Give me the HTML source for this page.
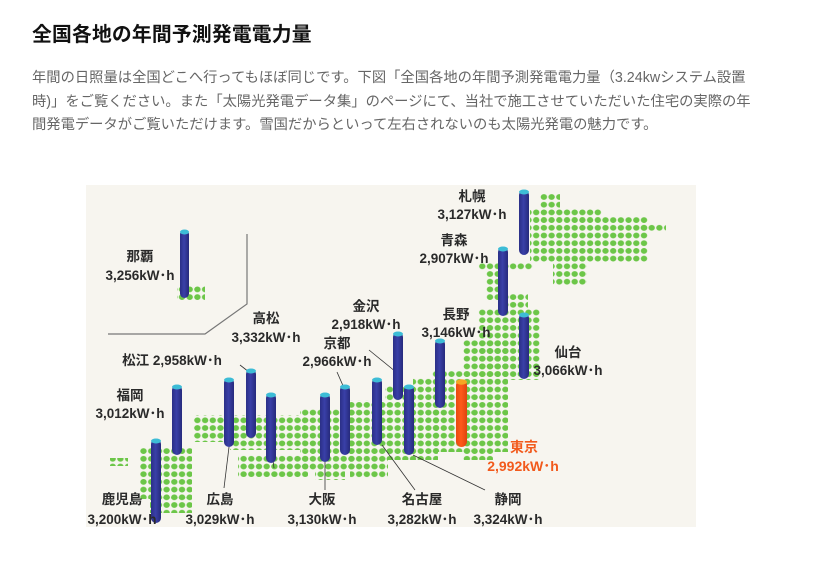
<!DOCTYPE html>
<html><head><meta charset="utf-8"><style>
body{margin:0;background:#fff;width:834px;height:566px;overflow:hidden;font-family:"Liberation Sans","Noto Sans CJK JP",sans-serif}
h1{position:absolute;left:32px;top:18px;margin:0;font-size:19.8px;font-weight:bold;color:#111;letter-spacing:0.2px}
p{position:absolute;left:32px;top:67px;margin:0;font-size:14.3px;line-height:23.5px;color:#666;white-space:nowrap}
svg{position:absolute;left:0;top:0}
</style></head><body>
<h1>全国各地の年間予測発電電力量</h1>
<p>年間の日照量は全国どこへ行ってもほぼ同じです。下図「全国各地の年間予測発電電力量（3.24kwシステム設置<br>時)」をご覧ください。また「太陽光発電データ集」のページにて、当社で施工させていただいた住宅の実際の年<br>間発電データがご覧いただけます。雪国だからといって左右されないのも太陽光発電の魅力です。</p>
<svg width="834" height="566" font-family="Liberation Sans, Noto Sans CJK JP, sans-serif">
<defs>
<pattern id="d" patternUnits="userSpaceOnUse" x="1.05" y="0.65" width="7.7" height="7.7">
<ellipse cx="3.85" cy="3.85" rx="3.2" ry="2.9" fill="#6cc648"/></pattern>
<linearGradient id="b" x1="0" x2="1"><stop offset="0" stop-color="#2a2f86"/><stop offset="0.45" stop-color="#3a40a8"/><stop offset="1" stop-color="#262a7c"/></linearGradient>
<linearGradient id="o" x1="0" x2="1"><stop offset="0" stop-color="#e84a10"/><stop offset="0.45" stop-color="#ff5a1a"/><stop offset="1" stop-color="#de4410"/></linearGradient>
</defs>
<rect x="86" y="185" width="610" height="342" fill="#f7f5ef"/>
<g fill="url(#d)">
<!-- Hokkaido -->
<rect x="540" y="193" width="20" height="16"/>
<rect x="530" y="208" width="72" height="10"/>
<rect x="530" y="216" width="118" height="46"/>
<rect x="640" y="224" width="26" height="8"/>
<rect x="553" y="260" width="34" height="26"/>
<!-- Tohoku -->
<rect x="478" y="262" width="55" height="8"/>
<rect x="486" y="270" width="22" height="30"/>
<rect x="508" y="293" width="20" height="16"/>
<rect x="478" y="308" width="62" height="72"/>
<!-- Kanto/Chubu -->
<rect x="463" y="340" width="45" height="112"/>
<rect x="432" y="370" width="40" height="82"/>
<rect x="413" y="378" width="25" height="82"/>
<rect x="385" y="385" width="30" height="75"/>
<rect x="463" y="452" width="30" height="8"/>
<!-- Kinki -->
<rect x="350" y="400" width="38" height="78"/>
<rect x="300" y="408" width="55" height="62"/>
<rect x="315" y="470" width="30" height="10"/>
<!-- Chugoku -->
<rect x="193" y="415" width="112" height="27"/>
<rect x="230" y="442" width="72" height="8"/>
<!-- Shikoku -->
<rect x="238" y="455" width="70" height="22"/>
<!-- Kyushu -->
<rect x="140" y="447" width="52" height="52"/>
<rect x="150" y="497" width="42" height="16"/>
<rect x="110" y="458" width="18" height="8"/>
<!-- Okinawa -->
<rect x="177" y="286" width="28" height="15"/>
</g>
<g stroke="#777" stroke-width="1.2" fill="none">
<polyline points="247,234 247,304 205,334 108,334"/>
</g>
<g stroke="#333" stroke-width="0.8" fill="none">
<line x1="240" y1="365" x2="249" y2="372"/>
<line x1="337" y1="372" x2="344" y2="388"/>
<line x1="369" y1="350" x2="396" y2="372"/>
<line x1="229" y1="447" x2="224" y2="488"/>
<line x1="325" y1="462" x2="325" y2="490"/>
<line x1="382" y1="445" x2="415" y2="490"/>
<line x1="413" y1="455" x2="485" y2="490"/>
<line x1="271" y1="445" x2="274" y2="468"/>
</g>
<g>
<g fill="url(#b)">
<rect x="180" y="230" width="9" height="68" rx="4.5"/>
<rect x="172" y="385" width="10" height="70" rx="5"/>
<rect x="151" y="439" width="10" height="84" rx="5"/>
<rect x="224" y="378" width="10" height="69" rx="5"/>
<rect x="246" y="369" width="10" height="69" rx="5"/>
<rect x="266" y="393" width="10" height="70" rx="5"/>
<rect x="320" y="393" width="10" height="69" rx="5"/>
<rect x="340" y="385" width="10" height="70" rx="5"/>
<rect x="372" y="378" width="10" height="67" rx="5"/>
<rect x="393" y="332" width="10" height="68" rx="5"/>
<rect x="404" y="385" width="10" height="70" rx="5"/>
<rect x="435" y="339" width="10" height="69" rx="5"/>
<rect x="498" y="247" width="10" height="69" rx="5"/>
<rect x="519" y="190" width="10" height="65" rx="5"/>
<rect x="519" y="313" width="10" height="66" rx="5"/>
</g>
<rect x="456" y="380" width="11" height="67" rx="5.5" fill="url(#o)"/>
<g fill="#3dbcd6">
<ellipse cx="184.5" cy="232" rx="4.5" ry="2.5"/>
<ellipse cx="177" cy="387" rx="5" ry="2.5"/>
<ellipse cx="156" cy="441" rx="5" ry="2.5"/>
<ellipse cx="229" cy="380" rx="5" ry="2.5"/>
<ellipse cx="251" cy="371" rx="5" ry="2.5"/>
<ellipse cx="271" cy="395" rx="5" ry="2.5"/>
<ellipse cx="325" cy="395" rx="5" ry="2.5"/>
<ellipse cx="345" cy="387" rx="5" ry="2.5"/>
<ellipse cx="377" cy="380" rx="5" ry="2.5"/>
<ellipse cx="398" cy="334" rx="5" ry="2.5"/>
<ellipse cx="409" cy="387" rx="5" ry="2.5"/>
<ellipse cx="440" cy="341" rx="5" ry="2.5"/>
<ellipse cx="503" cy="249" rx="5" ry="2.5"/>
<ellipse cx="524" cy="192" rx="5" ry="2.5"/>
<ellipse cx="524" cy="315" rx="5" ry="2.5"/>
</g>
<ellipse cx="461.5" cy="382" rx="5.5" ry="2.7" fill="#f5a623"/>
</g>
<g font-size="13.5" font-weight="bold" fill="#2a2a2a" text-anchor="middle">
<text x="140" y="261">那覇</text><text x="140" y="280">3,256kW･h</text>
<text x="266" y="323">高松</text><text x="266" y="342">3,332kW･h</text>
<text x="172" y="365">松江 2,958kW･h</text>
<text x="130" y="400">福岡</text><text x="130" y="418">3,012kW･h</text>
<text x="122" y="504">鹿児島</text><text x="122" y="524">3,200kW･h</text>
<text x="220" y="504">広島</text><text x="220" y="524">3,029kW･h</text>
<text x="322" y="504">大阪</text><text x="322" y="524">3,130kW･h</text>
<text x="422" y="504">名古屋</text><text x="422" y="524">3,282kW･h</text>
<text x="508" y="504">静岡</text><text x="508" y="524">3,324kW･h</text>
<text x="337" y="348">京都</text><text x="337" y="366">2,966kW･h</text>
<text x="366" y="311">金沢</text><text x="366" y="329">2,918kW･h</text>
<text x="456" y="319">長野</text><text x="456" y="337">3,146kW･h</text>
<text x="454" y="245">青森</text><text x="454" y="263">2,907kW･h</text>
<text x="472" y="201">札幌</text><text x="472" y="219">3,127kW･h</text>
<text x="568" y="357">仙台</text><text x="568" y="375">3,066kW･h</text>
</g>
<g font-size="14" font-weight="bold" fill="#f25a1c" text-anchor="middle">
<text x="524" y="452">東京</text><text x="523" y="471">2,992kW･h</text>
</g>
</svg>
</body></html>
